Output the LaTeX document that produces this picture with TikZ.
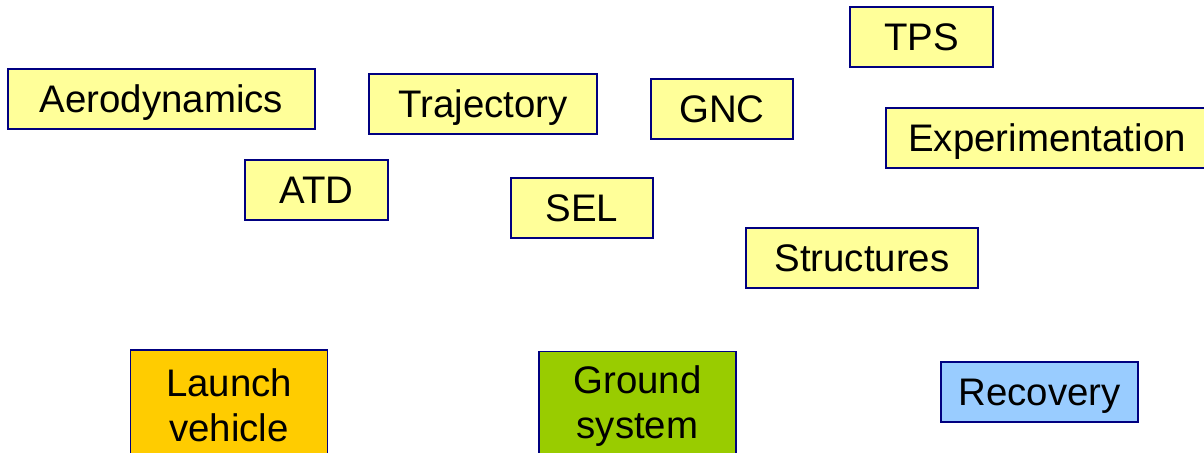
\documentclass[tikz,border=0pt]{standalone}
\usepackage{fontspec}
\setmainfont{Liberation Sans}
\definecolor{boxline}{RGB}{0,0,128}
\definecolor{paleyellow}{RGB}{255,255,153}
\definecolor{launchorange}{RGB}{255,204,0}
\definecolor{groundgreen}{RGB}{153,204,0}
\definecolor{recoveryblue}{RGB}{153,204,255}
\tikzset{every picture/.style={line width=0.75pt}}
\tikzset{
discipline/.style={draw=boxline, line width=1.1pt, fill=paleyellow, rectangle, inner sep=0pt,
  minimum height=45pt, font=\fontsize{28.8}{33.75}\selectfont, text height=20.6pt, text depth=0pt},
segment/.style={draw=boxline, line width=1.1pt, rectangle, inner sep=0pt, align=center,
  minimum height=82.5pt, minimum width=148pt, font=\fontsize{28.8}{33.75}\selectfont}}

\begin{document}
\begin{tikzpicture}[x=0.75pt,y=0.75pt,yscale=-1,xscale=1]
            \useasboundingbox (0,0) rectangle (1204,453); %set diagram to the size of the slide crop
            \clip (0,0) rectangle (1204,453);

            %Shape: Rectangle [id:aerodynamics]
            \node [discipline, minimum width=230.25pt] (aero) at (161.5,99) {Aerodynamics};
            %Shape: Rectangle [id:trajectory]
            \node [discipline, minimum width=171pt] (traj) at (483,104) {Trajectory};
            %Shape: Rectangle [id:gnc]
            \node [discipline, minimum width=106.5pt] (gnc) at (722,109) {GNC};
            %Shape: Rectangle [id:tps]
            \node [discipline, minimum width=107.25pt] (tps) at (921.5,37) {TPS};
            %Shape: Rectangle [id:experimentation]
            \node [discipline, minimum width=241.5pt] (expe) at (1047,138) {Experimentation};
            %Shape: Rectangle [id:atd]
            \node [discipline, minimum width=107.25pt] (atd) at (316.5,190) {ATD};
            %Shape: Rectangle [id:sel]
            \node [discipline, minimum width=106.5pt] (sel) at (582,208) {SEL};
            %Shape: Rectangle [id:structures]
            \node [discipline, minimum width=174pt] (struct) at (862,258) {Structures};

            %Shape: Rectangle [id:launchvehicle]
            \node [segment, fill=launchorange] (launch) at (229,405) {Launch\\vehicle};
            %Shape: Rectangle [id:groundsystem]
            \node [segment, fill=groundgreen] (ground) at (637.5,406.5) {Ground\\system};
            %Shape: Rectangle [id:recovery]
            \node [discipline, fill=recoveryblue, minimum width=148pt] (recov) at (1039.5,392) {Recovery};
\end{tikzpicture}
\end{document}
